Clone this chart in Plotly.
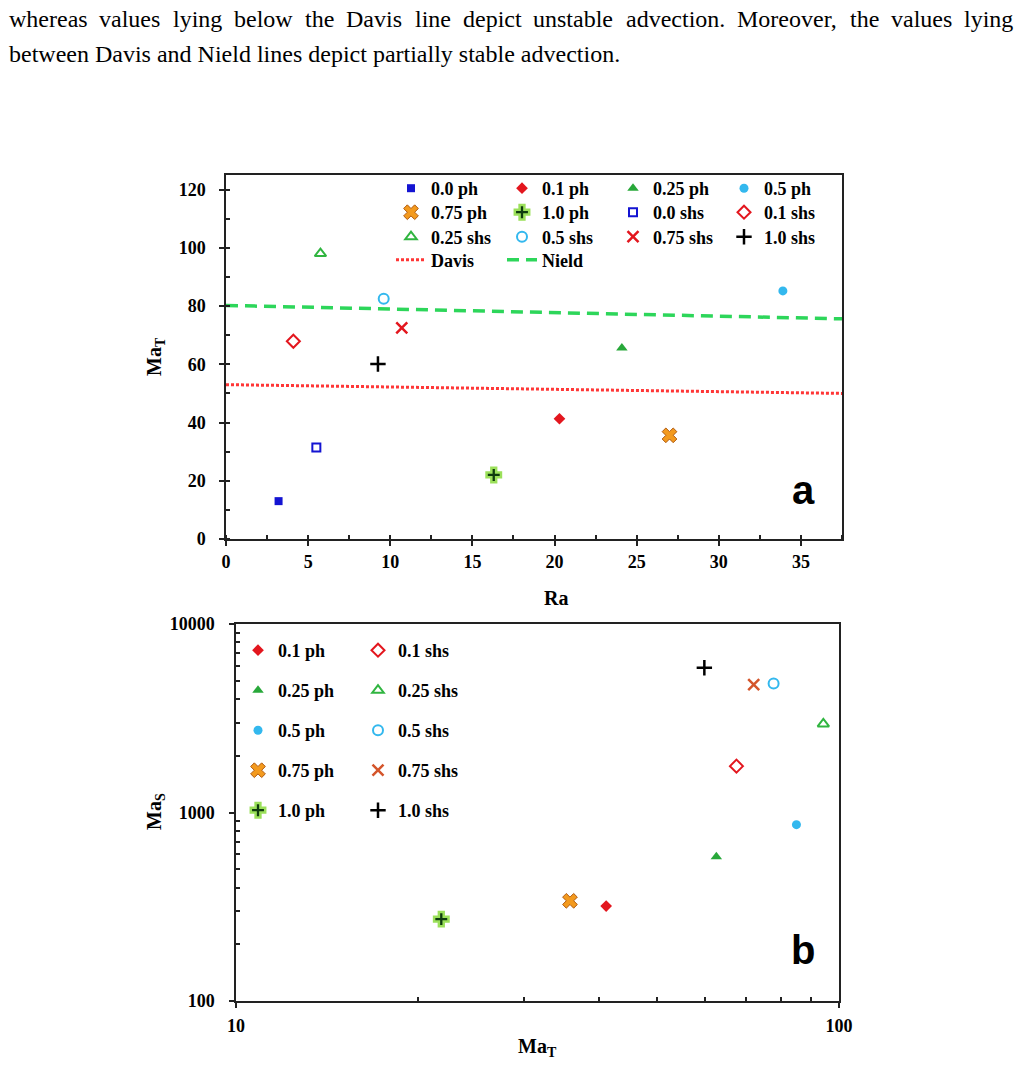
import plotly.graph_objects as go

# ---------------- data ----------------
series_a = ["0.0 ph", "0.1 ph", "0.25 ph", "0.5 ph", "0.75 ph", "1.0 ph",
            "0.0 shs", "0.1 shs", "0.25 shs", "0.5 shs", "0.75 shs", "1.0 shs"]
ra_a = [3.2, 20.3, 24.1, 33.9, 27.0, 16.3, 5.5, 4.1, 5.75, 9.6, 10.7, 9.25]
mat_a = [13.0, 41.3, 65.6, 85.2, 35.6, 22.0, 31.4, 67.9, 98.0, 82.5, 72.5, 60.1]

davis_ra = [0, 37.5]
davis_mat = [53.0, 50.0]
nield_ra = [0, 37.5]
nield_mat = [80.2, 75.6]

series_b = ["0.1 ph", "0.25 ph", "0.5 ph", "0.75 ph", "1.0 ph",
            "0.1 shs", "0.25 shs", "0.5 shs", "0.75 shs", "1.0 shs"]
mat_b = [41.1, 62.6, 85.0, 35.8, 21.9, 67.6, 94.2, 77.9, 72.2, 59.8]
mas_b = [319, 583, 862, 340, 272, 1762, 2951, 4831, 4772, 5861]

xa_ticks = [0, 5, 10, 15, 20, 25, 30, 35]
ya_ticks = [0, 20, 40, 60, 80, 100, 120]
xb_ticks = [10, 100]
yb_ticks = [100, 1000, 10000]
xb_minor = [20, 30, 40, 50, 60, 70, 80, 90]
yb_minor = [200, 300, 400, 500, 600, 700, 800, 900, 2000, 3000, 4000, 5000, 6000, 7000, 8000, 9000]

text_line1 = "whereas values lying below the Davis line depict unstable advection. Moreover, the values lying"
text_line2 = "between Davis and Nield lines depict partially stable advection."

# ---------------- styles ----------------
BLUE = "#1414D2"
RED = "#E3161E"
GREEN = "#28A83A"
LBLUE = "#33B8EE"
ORANGE = "#F39A1E"
STYLE = {
    "0.0 ph": dict(symbol="square", size=8, color=BLUE),
    "0.1 ph": dict(symbol="diamond", size=9, color=RED),
    "0.25 ph": dict(symbol="triangle-up", size=10, color=GREEN),
    "0.5 ph": dict(symbol="circle", size=9, color=LBLUE),
    "0.75 ph": dict(symbol="x", size=13, color=ORANGE, line=dict(color="#B05A10", width=1)),
    "1.0 ph": dict(symbol="cross", size=12, color="#0E3B0E", line=dict(color="#9BE05A", width=2.5)),
    "0.0 shs": dict(symbol="square-open", size=8, color=BLUE, line=dict(width=2)),
    "0.1 shs": dict(symbol="diamond-open", size=10, color=RED, line=dict(width=2)),
    "0.25 shs": dict(symbol="triangle-up-open", size=10, color="#30B540", line=dict(width=2)),
    "0.5 shs": dict(symbol="circle-open", size=10, color=LBLUE, line=dict(width=2)),
    "0.75 shs": dict(symbol="x-thin-open", size=11, color=RED, line=dict(width=2.5)),
    "1.0 shs": dict(symbol="cross-thin-open", size=11, color="black", line=dict(width=2.5)),
}
STYLE_B_OVERRIDE = {"0.75 shs": dict(symbol="x-thin-open", size=11, color="#D4552B", line=dict(width=2.5))}

# ---------------- geometry ----------------
W, H = 1019, 1070
ML, MR, MT, MB = 226, 177, 175, 69
PW = W - ML - MR
PH = H - MT - MB


def px_x(x):
    return (x - ML) / PW


def px_y(y):
    return (H - MB - y) / PH


SERIF = "Liberation Serif"
SANS = "Liberation Sans"
TICKFONT = dict(family=SERIF, size=18, color="black", weight="bold")
LEGFONT = dict(family=SERIF, size=18, color="black", weight="bold")

fig = go.Figure()

# legend layout for chart a (4 columns, row-wise legends)
a_legend_names = ["legend", "legend2", "legend3", "legend4"]


def a_leg(i):
    return a_legend_names[i // 4]


for i, name in enumerate(series_a):
    fig.add_trace(go.Scatter(
        x=[ra_a[i]], y=[mat_a[i]], mode="markers", name=name,
        marker=STYLE[name], xaxis="x", yaxis="y", legend=a_leg(i)))

fig.add_trace(go.Scatter(x=davis_ra, y=davis_mat, mode="lines", name="Davis",
                         line=dict(color="#FF3636", width=3, dash="3px,2px"),
                         xaxis="x", yaxis="y", legend=a_leg(12)))
fig.add_trace(go.Scatter(x=nield_ra, y=nield_mat, mode="lines", name="Nield",
                         line=dict(color="#2DD65A", width=3.5, dash="12px,7px"),
                         xaxis="x", yaxis="y", legend=a_leg(13)))

# chart b: 5 row legends, each with ph and shs entry
b_legend_names = ["legend5", "legend6", "legend7", "legend8", "legend9"]
for i, name in enumerate(series_b):
    st = STYLE_B_OVERRIDE.get(name, STYLE[name])
    fig.add_trace(go.Scatter(
        x=[mat_b[i]], y=[mas_b[i]], mode="markers", name=name,
        marker=st, xaxis="x2", yaxis="y2", legend=b_legend_names[i % 5]))

# ---------------- axes ----------------
common = dict(showgrid=False, zeroline=False, showline=True, mirror=True,
              linecolor="#222", linewidth=1.5, tickcolor="#222", tickwidth=1.5,
              tickfont=TICKFONT)

ya_dom = [px_y(539), 1.0]
yb_dom = [0.0, px_y(624)]
xb_dom = [px_x(236), px_x(839)]

layout = dict(
    width=W, height=H, margin=dict(l=ML, r=MR, t=MT, b=MB),
    paper_bgcolor="white", plot_bgcolor="white", showlegend=True,
    xaxis=dict(**common, domain=[0, 1], anchor="y", range=[0, 37.5],
               tickvals=xa_ticks, ticks="outside", ticklen=5, ticklabelstandoff=1,
               minor=dict(ticks="inside", ticklen=4, dtick=2.5, tick0=2.5, tickcolor="#222")),
    yaxis=dict(**common, domain=ya_dom, anchor="x", range=[0, 125],
               tickvals=ya_ticks, ticks="outside", ticklen=5, ticklabelstandoff=10,
               minor=dict(ticks="inside", ticklen=4, dtick=10, tick0=10, tickcolor="#222")),
    xaxis3=dict(overlaying="x", anchor="y", range=[0, 37.5], tickvals=xa_ticks,
                ticks="inside", ticklen=5, tickwidth=1.5, tickcolor="#222",
                showticklabels=False, showgrid=False, zeroline=False, showline=False),
    yaxis3=dict(overlaying="y", anchor="x", range=[0, 125], tickvals=ya_ticks,
                ticks="inside", ticklen=5, tickwidth=1.5, tickcolor="#222",
                showticklabels=False, showgrid=False, zeroline=False, showline=False),
    xaxis2=dict(**common, type="log", domain=xb_dom, anchor="y2", range=[1, 2],
                tickvals=xb_ticks, ticktext=[str(v) for v in xb_ticks],
                ticks="outside", ticklen=5, ticklabelstandoff=3,
                minor=dict(ticks="inside", ticklen=4, tickvals=xb_minor, tickcolor="#222")),
    yaxis2=dict(**common, type="log", domain=yb_dom, anchor="x2", range=[2, 4],
                tickvals=yb_ticks, ticktext=[str(v) for v in yb_ticks],
                ticks="outside", ticklen=5, ticklabelstandoff=11,
                minor=dict(ticks="inside", ticklen=4, tickvals=yb_minor, tickcolor="#222")),
    xaxis4=dict(overlaying="x2", anchor="y2", type="log", range=[1, 2], tickvals=xb_ticks,
                ticks="inside", ticklen=5, tickwidth=1.5, tickcolor="#222",
                showticklabels=False, showgrid=False, zeroline=False, showline=False),
    yaxis4=dict(overlaying="y2", anchor="x2", type="log", range=[2, 4], tickvals=yb_ticks,
                ticks="inside", ticklen=5, tickwidth=1.5, tickcolor="#222",
                showticklabels=False, showgrid=False, zeroline=False, showline=False),
)

# legends: chart a rows
a_row_centers = [188, 212, 236.5, 259.5]
for name, yc in zip(a_legend_names, a_row_centers):
    layout[name] = dict(orientation="h", x=px_x(391), xanchor="left",
                        y=px_y(yc - 18), yanchor="top", entrywidth=66,
                        font=LEGFONT, bgcolor="rgba(0,0,0,0)", borderwidth=0,
                        itemclick=False)
# legends: chart b rows
b_row_centers = [650, 690, 730, 770, 810]
for name, yc in zip(b_legend_names, b_row_centers):
    layout[name] = dict(orientation="h", x=px_x(238), xanchor="left",
                        y=px_y(yc - 18), yanchor="top", entrywidth=75,
                        font=LEGFONT, bgcolor="rgba(0,0,0,0)", borderwidth=0,
                        itemclick=False)

annotations = []


def ann(text, x, y, font, angle=0, xanchor="center", yanchor="middle"):
    annotations.append(dict(text=text, x=px_x(x), y=px_y(y), xref="paper", yref="paper",
                            showarrow=False, font=font, textangle=angle,
                            xanchor=xanchor, yanchor=yanchor))


# axis titles
TITLEFONT = dict(family=SERIF, size=20, color="black", weight="bold")
ann("Ra", 556, 598, TITLEFONT)
ann("Ma<sub>T</sub>", 155, 357, TITLEFONT, angle=-90)
ann("Ma<sub>S</sub>", 155, 812, TITLEFONT, angle=-90)
ann("Ma<sub>T</sub>", 537, 1047, TITLEFONT)

# panel letters
PANELFONT = dict(family=SANS, size=40, color="black", weight="bold")
ann("a", 803, 490, PANELFONT)
ann("b", 803, 950, PANELFONT)

# body text (justified first line)
BODYFONT = dict(family=SERIF, size=24, color="black")
line1_x = [6.7, 97.4, 170.8, 232.2, 303.0, 344.4, 412.5, 460.6, 531.4, 623.5, 734.9, 847.6, 889.0, 962.4]
for word, x in zip(text_line1.split(" "), line1_x):
    ann(word, x, 19, BODYFONT, xanchor="left")
ann(text_line2, 6.7, 54, BODYFONT, xanchor="left")

layout["annotations"] = annotations
fig.update_layout(**layout)

fig.write_html("out.html")
